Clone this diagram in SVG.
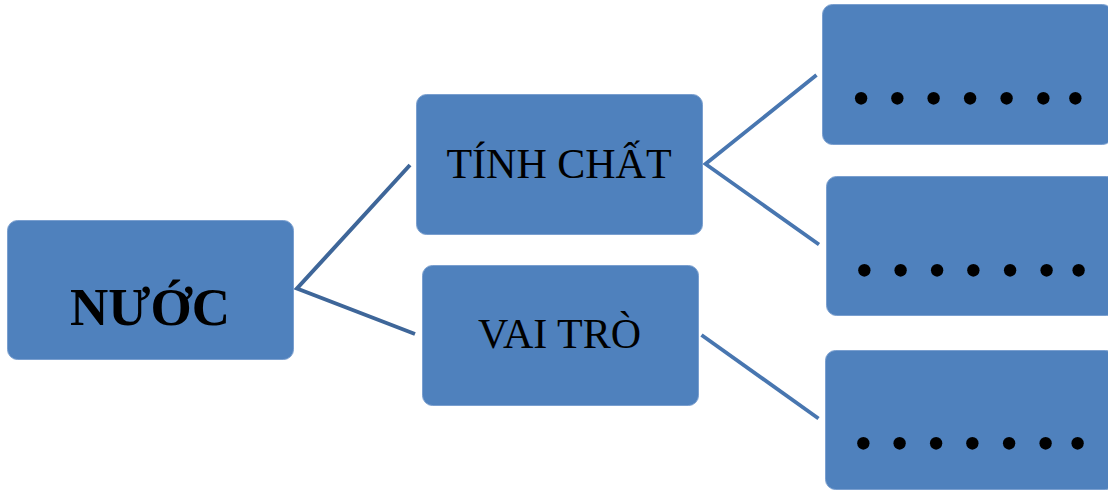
<svg xmlns="http://www.w3.org/2000/svg" width="1108" height="490" viewBox="0 0 1108 490">
<style>
.box{fill:#4F81BD;stroke:#7A9FCF;stroke-width:1}
.lbl{font-family:"Liberation Serif","Times New Roman",serif;fill:#000;text-anchor:middle}
.dots{font-family:"Liberation Serif","Times New Roman",serif;fill:#000;text-anchor:middle;font-size:52px}
.c1{stroke:#3E6699;stroke-width:4;fill:none;stroke-linejoin:miter}
.c2{stroke:#4876B0;stroke-width:3.8;fill:none;stroke-linejoin:miter}
</style>
<rect width="1108" height="490" fill="#fff"/>
<g id="connectors">
<polyline class="c1" points="410,165 297,288.5 415,334"/>
<polyline class="c2" points="816.5,75 705.5,164 819,244.5"/>
<line class="c2" x1="701.5" y1="335" x2="818.5" y2="418.5"/>
</g>
<g id="nuoc">
<rect class="box" x="7.5" y="220.5" width="286" height="139" rx="10"/>
<text class="lbl" x="150" y="325" font-size="53" font-weight="bold">NƯỚC</text>
</g>
<g id="tinh-chat">
<rect class="box" x="416.5" y="94.5" width="286" height="140" rx="10"/>
<text class="lbl" x="559" y="177.5" font-size="42">TÍNH CHẤT</text>
</g>
<g id="vai-tro">
<rect class="box" x="422.5" y="265.5" width="276" height="140" rx="10"/>
<text class="lbl" x="559.5" y="347.5" font-size="42">VAI TRÒ</text>
</g>
<g id="box1">
<rect class="box" x="822.5" y="4.5" width="290" height="140" rx="10"/>
<text class="dots" x="861 897.3 933.7 970 1006.7 1043.3 1075.3" y="116">•••••••</text>
</g>
<g id="box2">
<rect class="box" x="826.5" y="176.5" width="290" height="139" rx="10"/>
<text class="dots" x="864.3 900.6 937 973.3 1010 1046.6 1078.6" y="288">•••••••</text>
</g>
<g id="box3">
<rect class="box" x="825.5" y="350.5" width="290" height="139" rx="10"/>
<text class="dots" x="863.3 899.6 936 972.3 1009 1045.6 1077.6" y="461">•••••••</text>
</g>
</svg>
